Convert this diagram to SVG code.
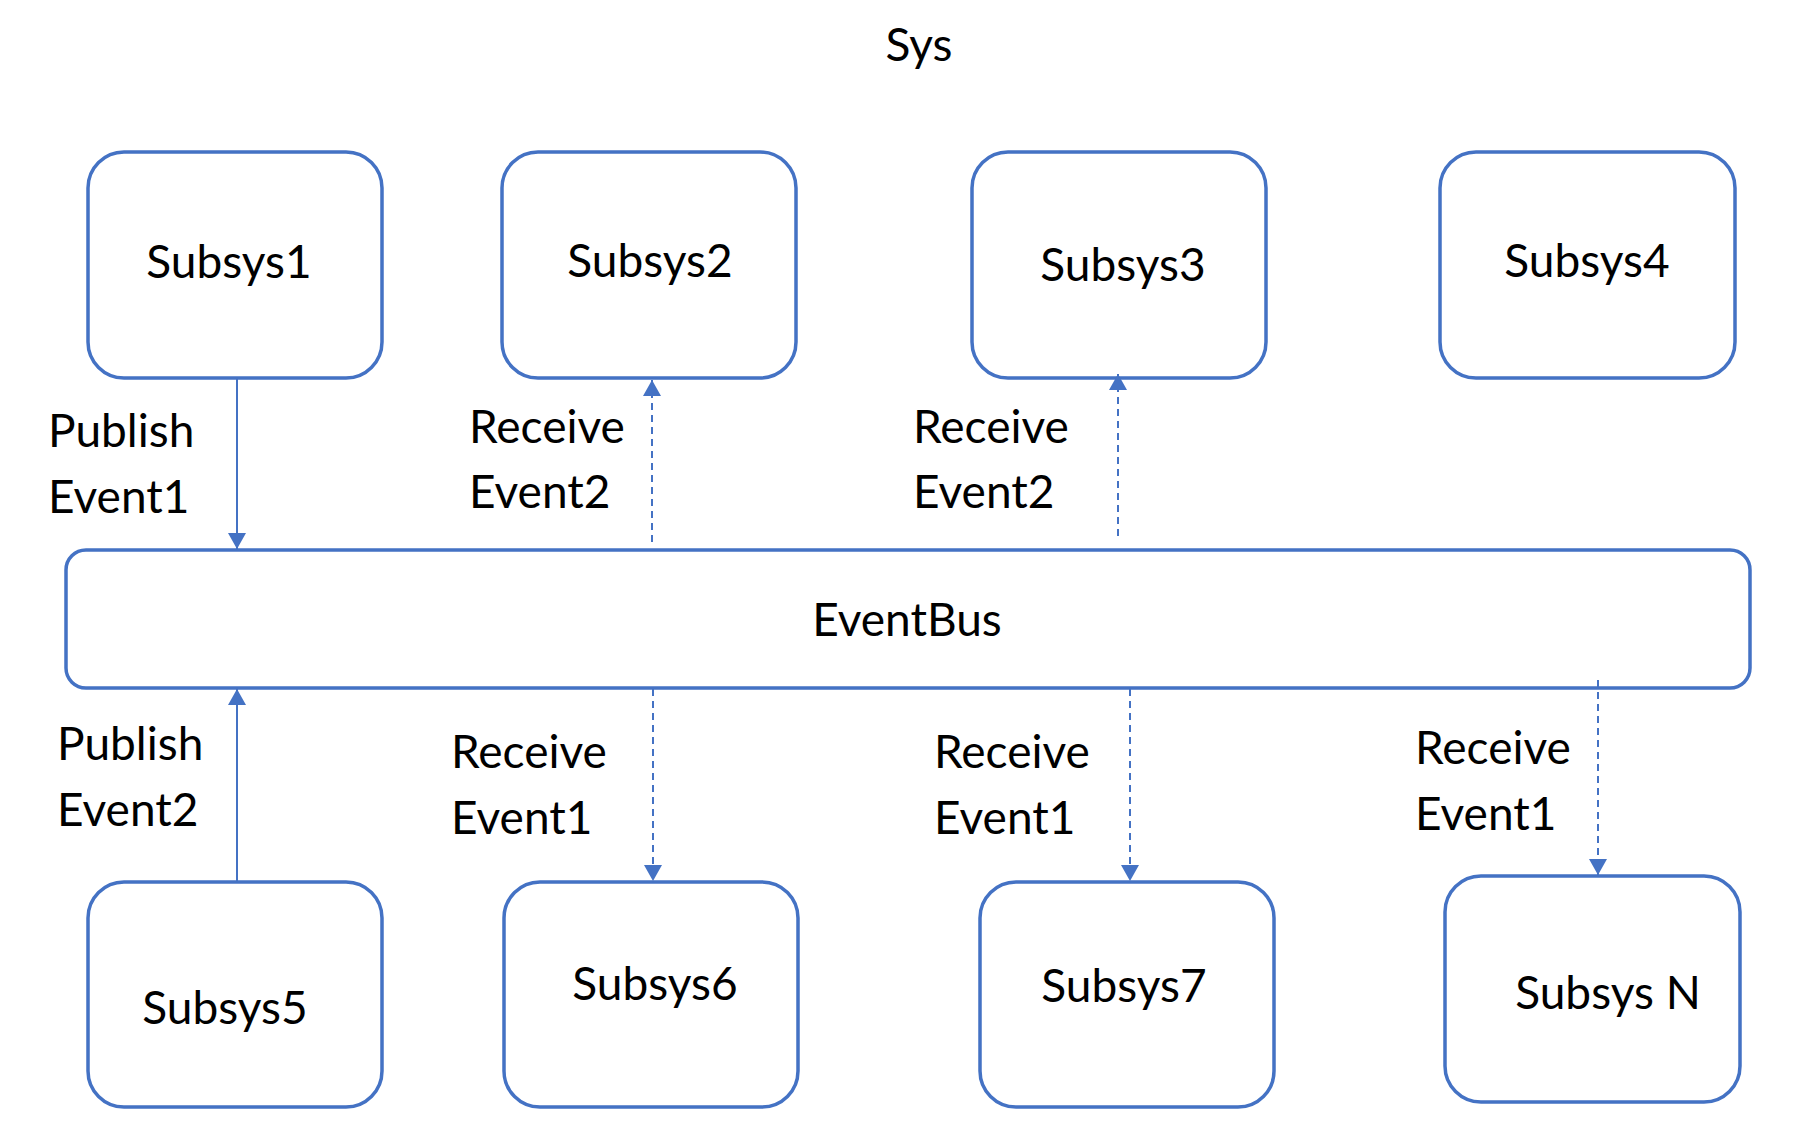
<svg xmlns="http://www.w3.org/2000/svg" width="1794" height="1140" viewBox="0 0 1794 1140">
<style>
  .box{fill:#fff;stroke:#4472C4;stroke-width:3.5}
  .t{font-family:Lato,"Liberation Sans",sans-serif;font-size:46px;fill:#000}
  .c{text-anchor:middle}
  .solid{stroke:#4472C4;stroke-width:2;fill:none}
  .dash{stroke:#4472C4;stroke-width:2;fill:none;stroke-dasharray:7 5}
</style>
<defs>
  <marker id="arr" viewBox="0 0 16 18" refX="16" refY="9" markerWidth="16" markerHeight="18" markerUnits="userSpaceOnUse" orient="auto">
    <path d="M0,0 L16,9 L0,18 Z" fill="#4472C4"/>
  </marker>
</defs>
<text class="t c" x="919" y="61">Sys</text>

<g id="subsys1"><rect class="box" x="88" y="152" width="294" height="226" rx="36"/><text class="t c" x="229" y="278">Subsys1</text></g>
<g id="subsys2"><rect class="box" x="502" y="152" width="294" height="226" rx="36"/><text class="t c" x="650" y="277">Subsys2</text></g>
<g id="subsys3"><rect class="box" x="972" y="152" width="294" height="226" rx="36"/><text class="t c" x="1123" y="281">Subsys3</text></g>
<g id="subsys4"><rect class="box" x="1440" y="152" width="295" height="226" rx="36"/><text class="t c" x="1587" y="277">Subsys4</text></g>
<g id="eventbus"><rect class="box" x="66" y="550" width="1684" height="138" rx="20"/><text class="t c" x="907" y="636">EventBus</text></g>
<g id="subsys5"><rect class="box" x="88" y="882" width="294" height="225" rx="36"/><text class="t c" x="225" y="1024">Subsys5</text></g>
<g id="subsys6"><rect class="box" x="504" y="882" width="294" height="225" rx="36"/><text class="t c" x="655" y="1000">Subsys6</text></g>
<g id="subsys7"><rect class="box" x="980" y="882" width="294" height="225" rx="36"/><text class="t c" x="1124" y="1002">Subsys7</text></g>
<g id="subsysN"><rect class="box" x="1445" y="876" width="295" height="226" rx="36"/><text class="t c" x="1608" y="1009">Subsys N</text></g>

<g id="connectors">
  <line class="solid" x1="237" y1="379" x2="237" y2="549" marker-end="url(#arr)"/>
  <line class="dash" x1="652" y1="542" x2="652" y2="380" marker-end="url(#arr)"/>
  <line class="dash" x1="1118" y1="536" x2="1118" y2="374" marker-end="url(#arr)"/>
  <line class="solid" x1="237" y1="881" x2="237" y2="689" marker-end="url(#arr)"/>
  <line class="dash" x1="653" y1="689" x2="653" y2="881" marker-end="url(#arr)"/>
  <line class="dash" x1="1130" y1="689" x2="1130" y2="881" marker-end="url(#arr)"/>
  <line class="dash" x1="1598" y1="680" x2="1598" y2="875" marker-end="url(#arr)"/>
</g>

<g id="labels">
  <text class="t" x="48" y="447">Publish</text><text class="t" x="48" y="513">Event1</text>
  <text class="t" x="469" y="443">Receive</text><text class="t" x="469" y="508">Event2</text>
  <text class="t" x="913" y="443">Receive</text><text class="t" x="913" y="508">Event2</text>
  <text class="t" x="57" y="760">Publish</text><text class="t" x="57" y="826">Event2</text>
  <text class="t" x="451" y="768">Receive</text><text class="t" x="451" y="834">Event1</text>
  <text class="t" x="934" y="768">Receive</text><text class="t" x="934" y="834">Event1</text>
  <text class="t" x="1415" y="764">Receive</text><text class="t" x="1415" y="830">Event1</text>
</g>
</svg>
